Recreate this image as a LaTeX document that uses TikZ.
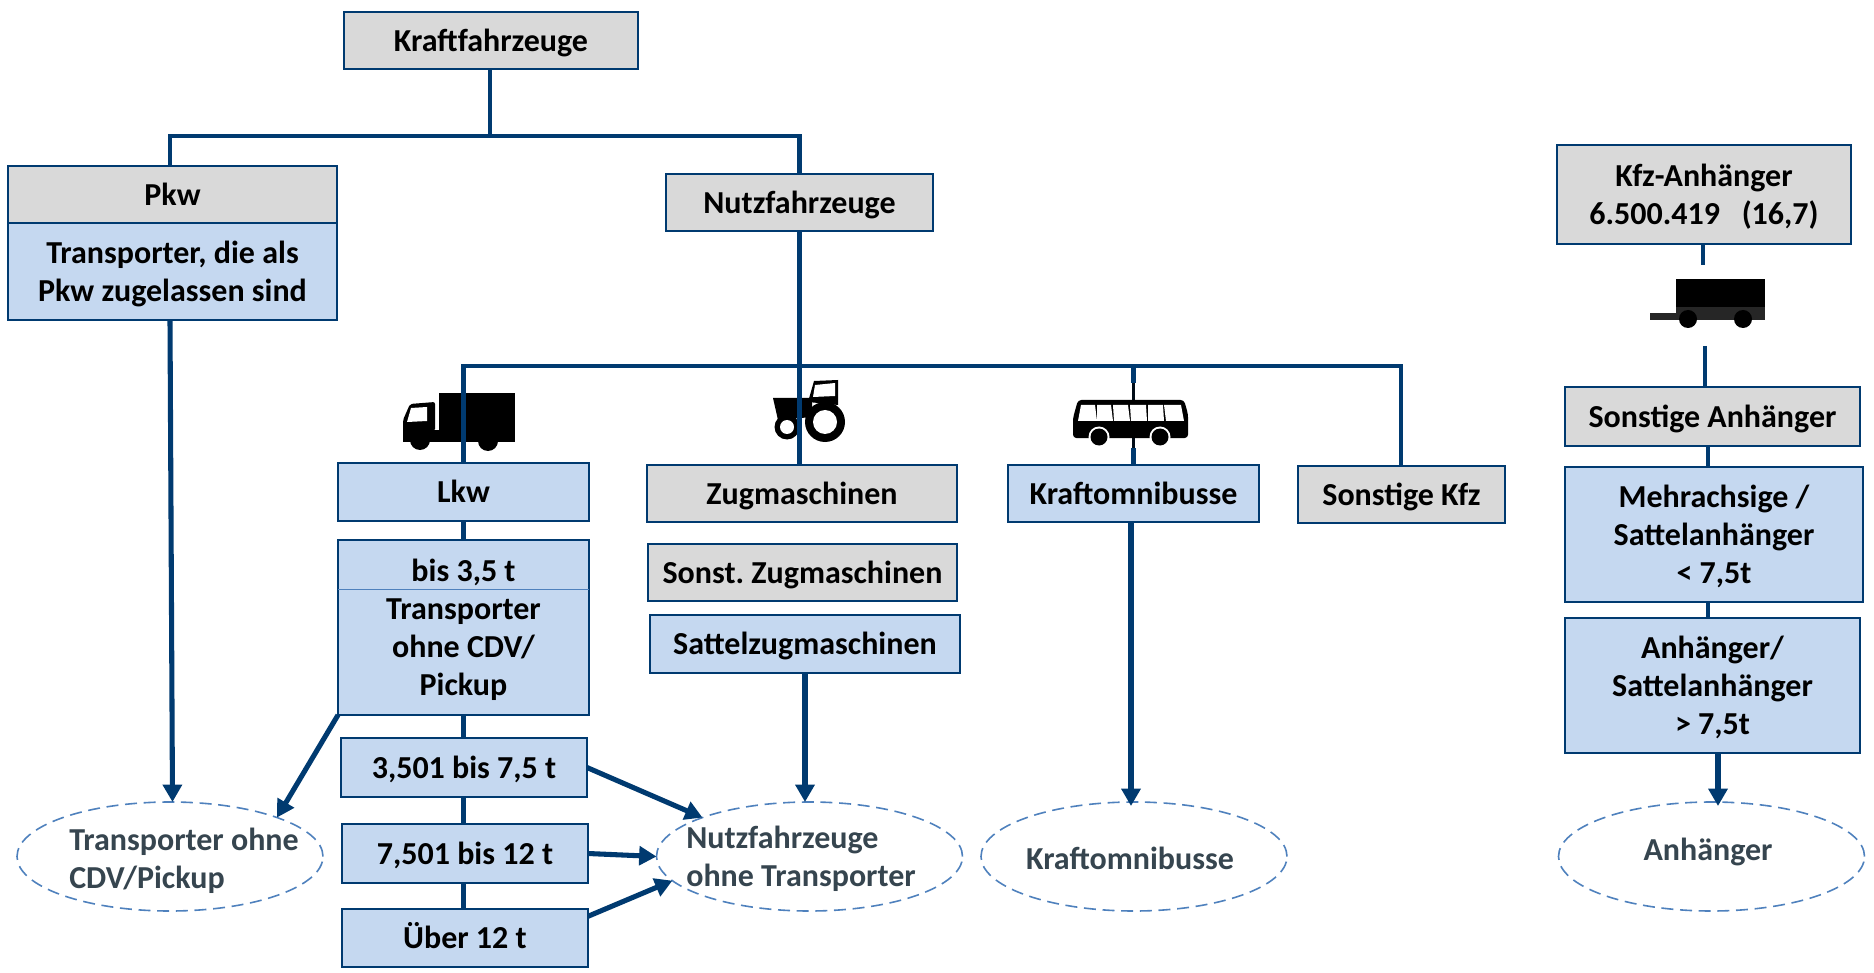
\documentclass[tikz,border=0pt]{standalone}
\usepackage{fontspec}
\setmainfont{Carlito}
\usetikzlibrary{shapes.geometric,arrows.meta}
\definecolor{navy}{HTML}{003A70}
\definecolor{bluefill}{HTML}{C5D8F0}
\definecolor{greyfill}{HTML}{D9D9D9}
\definecolor{dashblue}{HTML}{4F81BD}
\definecolor{elltext}{HTML}{36454F}
\frenchspacing
\newcommand{\bx}[7]{%
  \pgfmathsetmacro{\bxw}{(#5-#3)*.75}\pgfmathsetmacro{\bxh}{(#6-#4)*.75}%
  \node[#2,minimum width=\bxw pt,minimum height=\bxh pt] (#1) at ({(#3+#5)/2},{(#4+#6)/2}) {\rule{0pt}{22pt}#7\rule[-6pt]{0pt}{6pt}};}
\newcommand{\el}[3]{\node[ell] (#1) at (#2,#3) {};}
\begin{document}
\begin{tikzpicture}[x=.75pt,y=-.75pt,
  boxbase/.style={draw=navy,line width=2pt,inner sep=0pt,outer sep=0pt,align=center,
    font=\fontsize{24}{28.5}\selectfont\bfseries,text=black},
  grey/.style={boxbase,fill=greyfill},
  blue/.style={boxbase,fill=bluefill},
  ell/.style={ellipse,draw=dashblue,dashed,line width=1.2pt,dash pattern=on 9pt off 5pt,
    minimum width=229.5pt,minimum height=81.75pt,inner sep=0pt,outer sep=0pt},
  elabel/.style={inner sep=0pt,align=left,text=elltext,
    font=\fontsize{24}{28.5}\selectfont\bfseries},
  conn/.style={draw=navy,line width=3.7pt},
  arr/.style={draw=navy,line width=3.8pt,-{Triangle[length=13pt,width=14pt]}},
  icon/.style={fill=black,draw=none}]
\useasboundingbox (0,0) rectangle (1874,973);
% truck icon
\fill[icon] (439,393) rectangle (515,430);
\fill[icon] (403,430) rectangle (515,442);
\fill[icon,rounded corners=1.5pt] (403,441) -- (403,420) -- (410,404) -- (435,402) -- (435,431) -- cycle;
\fill[white] (407,422) -- (411,408) -- (427,407) -- (427,421) -- cycle;
\fill[icon] (420,440) circle (10);
\fill[icon] (488,441) circle (10);
% tractor icon
\fill[icon] (773,398) -- (812,398) -- (812,417) -- (778,420) -- cycle;
\fill[icon] (808,402) -- (814,381) -- (838,380) -- (838,405) -- cycle;
\fill[white] (815,385) -- (835,383) -- (835,396) -- (813,397) -- cycle;
\fill[icon] (825,422) circle (20);
\fill[white] (825,422) circle (12);
\fill[icon] (787,427) circle (12.5);
\fill[white] (787,427) circle (7);
% boxes
\bx{kfz}{grey}{344}{12}{638}{69}{Kraftfahrzeuge}
\bx{pkwb}{blue}{8}{223}{337}{320}{Transporter, die als\\Pkw zugelassen sind}
\bx{pkw}{grey}{8}{166}{337}{223}{Pkw}
\bx{nutz}{grey}{666}{174}{933}{231}{Nutzfahrzeuge}
\bx{anh}{grey}{1557}{145}{1851}{244}{Kfz-Anhänger\\6.500.419\hspace{.45em} (16,7)}
\bx{lkw}{blue}{338}{463}{589}{521}{Lkw}
\bx{bis}{blue}{338}{540}{589}{715}{bis 3,5 t\\Transporter\\ohne CDV/\\Pickup}
\bx{zug}{grey}{647}{465}{957}{522}{Zugmaschinen}
\bx{sonz}{grey}{648}{544}{957}{601}{Sonst. Zugmaschinen}
\bx{satt}{blue}{650}{615}{960}{673}{Sattelzugmaschinen}
\bx{kom}{blue}{1008}{465}{1259}{522}{Kraftomnibusse}
\bx{sonk}{grey}{1298}{466}{1505}{523}{Sonstige Kfz}
\bx{sona}{grey}{1565}{387}{1860}{446}{Sonstige Anhänger}
\bx{mehr}{blue}{1565}{467}{1863}{602}{Mehrachsige /\\Sattelanhänger\\< 7,5t}
\bx{anh2}{blue}{1565}{618}{1860}{753}{Anhänger/\\Sattelanhänger\\> 7,5t}
\bx{l1}{blue}{341}{738}{587}{797}{3,501 bis 7,5 t}
\bx{l2}{blue}{342}{824}{588}{883}{7,501 bis 12 t}
\bx{l3}{blue}{342}{909}{588}{967}{Über 12 t}
\draw[dashblue,line width=.6pt] (bis.west |- 0,589) -- (bis.east |- 0,589);
% ellipses
\el{e1}{170}{856.5}
\el{e2}{809.5}{856.5}
\el{e3}{1134}{856.5}
\el{e4}{1711.5}{856.5}
\node[elabel] (t1) at (184,861) {Transporter ohne\\CDV/Pickup};
\node[elabel] (t2) at (801,859) {Nutzfahrzeuge\\ohne Transporter};
\node[elabel] (t3) at (1130,858) {Kraftomnibusse};
\node[elabel] (t4) at (1708,852) {Anhänger};
% junctions
\coordinate (j0) at (490,136);
\coordinate (j1) at (464,366);
\coordinate (j2) at (1401,366);
\coordinate (a1) at (1703,265);
\coordinate (a2) at (1705,346);
\coordinate (a3) at (1708,450);
\coordinate (a4) at (1718,806);
\coordinate (k1) at (1131,806);
% connectors
\draw[conn] (kfz.south -| j0) -- (j0);
\draw[conn] (pkw.north -| e1.north) -- (e1.north |- j0) -- (nutz.north |- j0) -- (nutz.north);
\draw[conn] (nutz.south) -- (nutz.south |- zug.north);
\draw[conn] (lkw.north) -- (lkw.north |- j1) -- (j2) -- (sonk.north -| j2);
\draw[conn] (kom.north) -- (kom.north |- j1);
\draw[conn] (anh.south -| a1) -- (a1);
\draw[conn] (a2) -- (sona.north -| a2);
\draw[conn] (sona.south -| a3) -- (mehr.north -| a3);
\draw[conn] (mehr.south -| a3) -- (anh2.north -| a3);
\draw[conn] (bis.south -| lkw.south) -- (l1.north -| lkw.south);
\draw[conn] (l1.south -| lkw.south) -- (l2.north -| lkw.south);
\draw[conn] (l2.south -| lkw.south) -- (l3.north -| lkw.south);
\draw[conn] (lkw.south) -- (bis.north);
\draw[arr] (pkwb.south -| e1.north) -- (pkwb.south |- e1.north);
\draw[arr] (bis.south west) -- (e1.20);
\draw[arr] (l1.east) -- (e2.160);
\draw[arr] (l2.east) -- (e2.west);
\draw[arr] (l3.10) -- (e2.190);
\draw[arr] (satt.south) -- (satt.south |- e2.north);
\draw[arr] (kom.south -| k1) -- (k1);
\draw[arr] (anh2.south -| a4) -- (a4);
% bus icon, above its connector
\fill[white] (1124,383) rectangle (1143,448);
\draw[black!80!navy,line width=2pt] (kom.north |- 0,383) -- (kom.north |- 0,448);
\fill[icon,rounded corners=2.5pt] (1078,400) -- (1184,400) -- (1188,414) -- (1188,438) -- (1073,438) -- (1073,418) -- cycle;
\foreach \xa/\xb/\xc/\xd in {1081/1095/1097/1078, 1097/1111/1113/1097, 1113/1128/1130/1114, 1130/1146/1147/1131, 1148/1163/1164/1148, 1164/1181/1184/1166}
  \fill[white] (\xa,405) -- (\xb,405) -- (\xc,421) -- (\xd,421) -- cycle;
\fill[white] (1099,437) circle (10.5);
\fill[white] (1160,437) circle (10.5);
\fill[icon] (1099,437) circle (8.5);
\fill[icon] (1160,437) circle (8.5);
% trailer icon
\fill[icon] (1676,279) rectangle (1765,307);
\fill[black!85] (1676,307) rectangle (1765,320);
\fill[black!85] (1650,313) rectangle (1680,320);
\fill[icon] (1688,319) circle (9);
\fill[icon] (1743,319) circle (9);
\end{tikzpicture}
\end{document}
